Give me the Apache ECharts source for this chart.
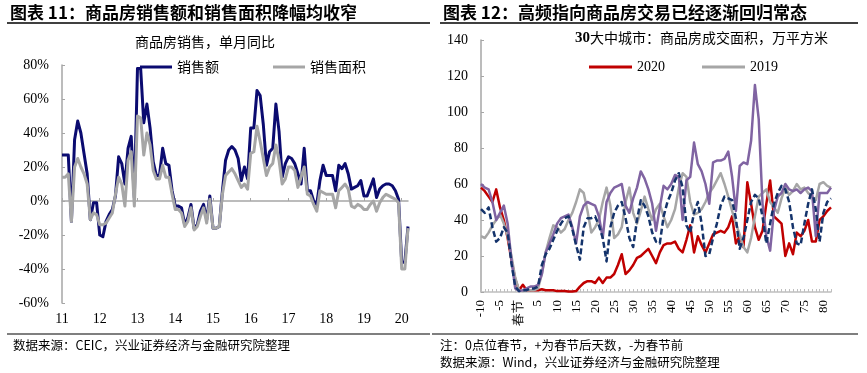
<!DOCTYPE html>
<html><head><meta charset="utf-8">
<script src="https://cdn.jsdelivr.net/npm/echarts/dist/echarts.min.js"></script>
<style>html,body{margin:0;padding:0;background:#fff;}#c{width:867px;height:373px;}</style>
</head><body><div id="c"></div>
<script>
// ---------- Left chart: monthly YoY (2011-01 .. 2020-03) ----------
const years = ['2011','2012','2013','2014','2015','2016','2017','2018','2019','2020'];
const monthCats = [];
years.forEach(function (y) {
  for (let m = 1; m <= 12; m++) {
    if (y === '2020' && m > 3) break;
    monthCats.push(y + '-' + (m < 10 ? '0' + m : m));
  }
});
const salesAmount = [
  27, 27, 27, -12, 36, 47, 40, 28, 16, -11, -1, -1,
  -20, -21, -12, -8, -5, 3, 26, 22, 10, 31, 38, 2,
  78, 78, 46, 57, 43, 23, 15, 15, 31, 22, 21, 6,
  -3, -3, -4, -14, -10, -2, -16, -14, -6, -2, -11, 3,
  -16, -16, -15, 6, 24, 30, 32, 30, 25, 12, 20, 13,
  43, 43, 65, 62, 45, 21, 29, 31, 57, 41, 14, 22,
  26, 25, 22, 16, 10, 31, 6, 6, 0, -2, 12, 21,
  15, 15, 15, 6, 21, 19, 22, 16, 7, 8, 9, 12,
  3, 3, 8, 13, 2, 7, 9, 10, 10, 9, 6, 1,
  -36, -36, -15
];
const salesArea = [
  14, 14, 16, -12, 20, 25, 20, 16, 10, -11, -7, -8,
  -14, -14, -13, -10, -7, 4, 14, 10, -3, 24, 29, -3,
  50, 49, 27, 40, 33, 18, 13, 13, 21, 14, 14, 4,
  -5, -5, -7, -15, -12, -4, -17, -15, -9, -4, -13, 1,
  -16, -16, -15, 4, 15, 17, 19, 16, 12, 8, 10, 7,
  28, 29, 44, 35, 25, 15, 20, 22, 33, 24, 10, 13,
  20, 20, 18, 8, 14, 20, 4, 3, -2, -6, 6, 5,
  4, 4, 4, -4, 6, 8, 10, 7, -3, -4, -2, -3,
  -5, -5, -2, 0, -6, -1, 2, 4, 3, 2, 1, -1,
  -40, -40, -16
];

// ---------- Right chart: daily, days relative to Spring Festival ----------
const dayCats = [];
for (let d = -10; d <= 82; d++) dayCats.push(String(d));
const y2020 = [
  58, 56, 53, 50, 57, 47, 40, 30, 18, 7,
  1, 4, 1, 1, 1, 1, 1.5, 1, 1, 1,
  0.5, 0.5, 0.5, 0.3, 0.3, 0.5, 3, 5, 6, 6,
  5, 8, 5, 8, 8, 10, 15, 21, 10, 12,
  15, 19, 20, 22, 24, 20, 16, 22, 26, 27,
  27, 28, 24, 22, 29, 37, 22, 31, 26, 22,
  27, 32, 33, 34, 33, 36, 42, 27, 31, 25,
  61, 49, 36, 29, 34, 49, 62, 42, 40, 38,
  20, 27, 21, 33, 31, 34, 40, 28, 28, 40,
  42, 45, 47
];
const y2019 = [
  31, 30, 33, 37, 40, 43, 38, 31, 20, 8,
  1, 0.5, 1, 1, 1, 2, 10, 22, 30, 37,
  36, 33, 35, 40, 44, 50, 57, 55, 45, 33,
  36, 40, 50, 58, 48, 30, 32, 36, 50, 58,
  44, 38, 45, 53, 46, 40, 46, 49, 42, 36,
  40, 46, 58, 66, 64, 50, 43, 44, 46, 50,
  55, 58, 62, 66, 60, 53, 45, 38, 32, 25,
  22, 30, 42, 53, 55, 57, 50, 47, 44, 52,
  58, 54, 56, 60, 57, 58, 55, 53, 51, 60,
  61, 59, 58
];
const y2018 = [
  60, 58, 57, 50, 40, 44, 48, 38, 18, 2,
  0.5, 1, 2, 3, 3, 4, 10, 22, 27, 32,
  38, 41, 42, 43, 36, 27, 42, 48, 50, 49,
  48, 42, 30, 50, 55, 58, 59, 60, 48, 44,
  52, 58, 67, 63, 57, 49, 34, 47, 59, 57,
  60, 65, 64, 40, 62, 64, 83, 71, 67, 60,
  49, 72, 73, 73, 74, 78, 64, 45, 70, 72,
  71, 84, 115, 96, 49, 31, 23, 45, 53, 55,
  60, 57, 56, 57, 55, 57, 58, 56, 31, 55,
  55, 55, 58
];
const y2017 = [
  46, 44, 47, 36, 28, 30, 36, 33, 16, 3,
  0.5, 1, 1, 2, 2, 3, 15, 21, 24, 29,
  34, 38, 41, 42, 35, 26, 18, 36, 41, 41,
  42, 37, 30, 17, 36, 44, 48, 50, 41, 30,
  25, 40, 51, 48, 42, 33, 28, 27, 42, 50,
  55, 62, 66, 58, 37, 33, 44, 50, 38, 20,
  21, 30, 38, 48, 53, 52, 51, 41, 24, 30,
  40, 50, 54, 52, 42, 27, 38, 49, 55, 59,
  57, 50, 36, 27, 26, 38, 49, 57, 46, 28,
  44, 50, 52
];

const CJK = 'Noto Sans CJK SC';
const SERIF = 'Liberation Serif';
const AX = '#a6a6a6';

const chart = echarts.init(document.getElementById('c'), null, {renderer: 'canvas'});
chart.setOption({
  backgroundColor: '#ffffff',
  animation: false,
  grid: [
    {left: 62, top: 65, right: 459, bottom: 70},
    {left: 481, top: 40, right: 36, bottom: 81}
  ],
  legend: [
    {data: ['销售额'], left: 140, top: 60, padding: 0, icon: 'rect', itemWidth: 32, itemHeight: 3,
     textStyle: {fontFamily: CJK, fontSize: 14, color: '#000'}},
    {data: ['销售面积'], left: 273, top: 60, padding: 0, icon: 'rect', itemWidth: 32, itemHeight: 3,
     textStyle: {fontFamily: CJK, fontSize: 14, color: '#000'}},
    {data: ['2020'], left: 589, top: 60, padding: 0, icon: 'rect', itemWidth: 43, itemHeight: 3,
     textStyle: {fontFamily: SERIF, fontSize: 14, color: '#000'}},
    {data: ['2019'], left: 702, top: 60, padding: 0, icon: 'rect', itemWidth: 43, itemHeight: 3,
     textStyle: {fontFamily: SERIF, fontSize: 14, color: '#000'}}
  ],
  xAxis: [
    {type: 'category', gridIndex: 0, data: monthCats, boundaryGap: false,
     axisLine: {onZero: true, lineStyle: {color: AX, width: 1.5}},
     axisTick: {show: true, inside: true, length: 3, interval: function (i) { return i % 12 === 0; }, lineStyle: {color: AX}},
     axisLabel: {show: false}, splitLine: {show: false}},
    {type: 'category', gridIndex: 0, data: monthCats, boundaryGap: false, position: 'bottom',
     axisLine: {show: false, onZero: false}, axisTick: {show: false},
     axisLabel: {interval: function (i) { return i % 12 === 0; }, formatter: function (v) { return v.slice(2, 4); },
       fontFamily: SERIF, fontSize: 14, color: '#000', margin: 9},
     splitLine: {show: false}},
    {type: 'category', gridIndex: 1, data: dayCats, boundaryGap: false,
     axisLine: {lineStyle: {color: '#bfbfbf', width: 1.5}},
     axisTick: {show: true, inside: true, length: 3, interval: 0, lineStyle: {color: '#bfbfbf'}},
     axisLabel: {interval: 4, rotate: 90, margin: 8, fontFamily: SERIF, fontSize: 13, color: '#000',
       formatter: function (v) { return v === '0' ? '春节' : v; }},
     splitLine: {show: false}}
  ],
  yAxis: [
    {type: 'value', gridIndex: 0, min: -60, max: 80, interval: 20,
     axisLine: {show: true, lineStyle: {color: AX, width: 1.5}},
     axisTick: {show: true, inside: true, length: 3, lineStyle: {color: AX}},
     axisLabel: {formatter: '{value}%', fontFamily: SERIF, fontSize: 14, color: '#000', margin: 13},
     splitLine: {show: false}},
    {type: 'value', gridIndex: 1, min: 0, max: 140, interval: 20,
     axisLine: {show: true, lineStyle: {color: AX, width: 1.5}},
     axisTick: {show: true, inside: true, length: 3, lineStyle: {color: AX}},
     axisLabel: {fontFamily: SERIF, fontSize: 14, color: '#000', margin: 13},
     splitLine: {show: false}}
  ],
  series: [
    {name: '销售额', type: 'line', xAxisIndex: 0, yAxisIndex: 0, data: salesAmount, symbol: 'none',
     color: '#0b0b70', lineStyle: {color: '#0b0b70', width: 3, join: 'round'}},
    {name: '销售面积', type: 'line', xAxisIndex: 0, yAxisIndex: 0, data: salesArea, symbol: 'none',
     color: '#a6a6a6', lineStyle: {color: '#a6a6a6', width: 3, join: 'round'}},
    {name: '2020', type: 'line', xAxisIndex: 2, yAxisIndex: 1, data: y2020, symbol: 'none',
     color: '#c00000', lineStyle: {color: '#c00000', width: 2.5, join: 'round'}},
    {name: '2019', type: 'line', xAxisIndex: 2, yAxisIndex: 1, data: y2019, symbol: 'none',
     color: '#a6a6a6', lineStyle: {color: '#a6a6a6', width: 2.5, join: 'round'}},
    {name: '2018', type: 'line', xAxisIndex: 2, yAxisIndex: 1, data: y2018, symbol: 'none',
     color: '#8064a2', lineStyle: {color: '#8064a2', width: 2.5, join: 'round'}},
    {name: '2017', type: 'line', xAxisIndex: 2, yAxisIndex: 1, data: y2017, symbol: 'none',
     color: '#14336b', lineStyle: {color: '#14336b', width: 2.5, type: [6, 3], join: 'round'}}
  ],
  graphic: [
    {type: 'text', left: 10, top: 4, style: {text: '图表 11：商品房销售额和销售面积降幅均收窄',
      font: 'bold 17px "Noto Sans CJK SC"', fill: '#000'}},
    {type: 'line', shape: {x1: 7, y1: 23, x2: 430, y2: 23}, style: {stroke: '#000', lineWidth: 1.5}},
    {type: 'text', left: 443, top: 4, style: {text: '图表 12：高频指向商品房交易已经逐渐回归常态',
      font: 'bold 17px "Noto Sans CJK SC"', fill: '#000'}},
    {type: 'line', shape: {x1: 440, y1: 23, x2: 858, y2: 23}, style: {stroke: '#000', lineWidth: 1.5}},
    {type: 'text', x: 205, y: 42, style: {text: '商品房销售，单月同比', font: '14px "Noto Sans CJK SC"',
      fill: '#000', align: 'center', verticalAlign: 'middle'}},
    {type: 'text', x: 575, y: 38, style: {text: '{a|30}{b|大中城市：商品房成交面积，万平方米}',
      verticalAlign: 'middle',
      rich: {a: {fontFamily: SERIF, fontWeight: 'bold', fontSize: 15, fill: '#000'},
             b: {fontFamily: CJK, fontSize: 14, fill: '#000'}}}},
    {type: 'line', shape: {x1: 7, y1: 334, x2: 430, y2: 334}, style: {stroke: '#000', lineWidth: 1.2}},
    {type: 'line', shape: {x1: 432, y1: 334, x2: 858, y2: 334}, style: {stroke: '#000', lineWidth: 1.2}},
    {type: 'text', x: 13, y: 345, style: {text: '数据来源：CEIC，兴业证券经济与金融研究院整理',
      font: '12.5px "Noto Sans CJK SC"', fill: '#000', verticalAlign: 'middle'}},
    {type: 'text', x: 440, y: 345, style: {text: '注：0点位春节，+为春节后天数，-为春节前',
      font: '12.5px "Noto Sans CJK SC"', fill: '#000', verticalAlign: 'middle'}},
    {type: 'text', x: 440, y: 362, style: {text: '数据来源：Wind，兴业证券经济与金融研究院整理',
      font: '12.5px "Noto Sans CJK SC"', fill: '#000', verticalAlign: 'middle'}}
  ]
});
</script>
</body></html>
